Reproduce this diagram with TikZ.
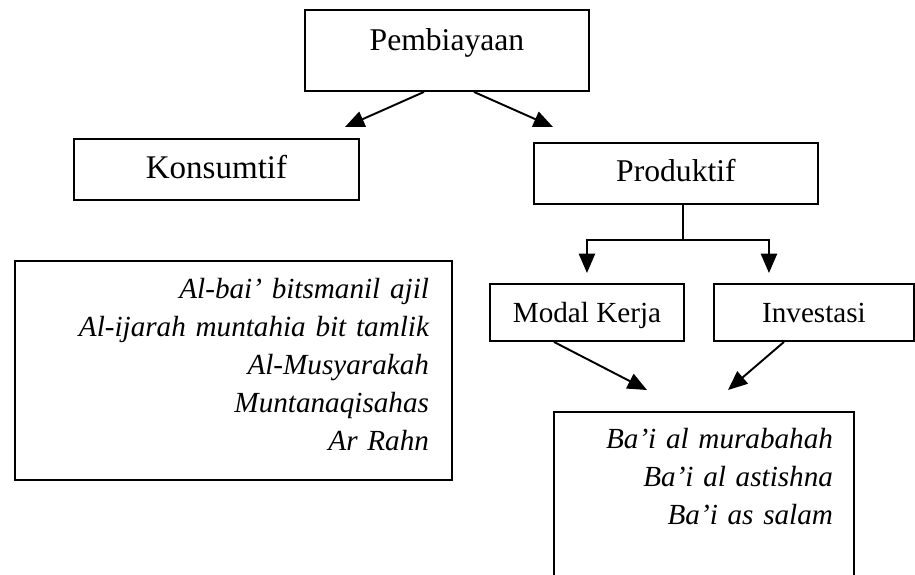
\documentclass[tikz,border=0pt]{standalone}
\usepackage{fontspec}
\setmainfont{Liberation Serif}
\usetikzlibrary{arrows.meta}

\begin{document}
\begin{tikzpicture}[
    kotak/.style={draw,line width=0.55pt,inner sep=0pt,anchor=north west},
    besar/.style={font=\fontsize{9}{11}\selectfont},
    kecil/.style={font=\fontsize{8.3}{10.8}\selectfont},
    daftar/.style={kotak,align=right,font=\fontsize{8.3}{10.8}\selectfont\itshape},
    panah/.style={line width=0.55pt,-{Triangle[length=5.5pt,width=4.6pt]}}
  ]
    \useasboundingbox (0,0) rectangle (9.15,-5.74);
    \clip (0,0) rectangle (9.15,-5.74);

    % Kotak atas
    \node[kotak,besar,minimum width=2.84cm,text height=0.41cm,text depth=0.40cm] (pemb) at (3.04,-0.09) {Pembiayaan};
    \node[kotak,font=\fontsize{9.4}{11}\selectfont,minimum width=2.85cm,text height=0.40cm,text depth=0.21cm] (kons) at (0.73,-1.38) {Konsumtif};
    \node[kotak,besar,minimum width=2.84cm,text height=0.39cm,text depth=0.22cm] (prod) at (5.33,-1.42) {Produktif};

    % Kotak produktif
    \node[kotak,kecil,minimum width=1.94cm,text height=0.39cm,text depth=0.18cm] (modal) at (4.89,-2.83) {Modal Kerja};
    \node[kotak,kecil,minimum width=2.00cm,text height=0.39cm,text depth=0.18cm] (inv) at (7.13,-2.83) {Investasi};

    % Daftar akad
    \node[daftar,text width=3.91cm,inner xsep=0.23cm,text height=0.38cm,text depth=1.81cm] (akadkons) at (0.14,-2.60)
        {Al-bai’ bitsmanil ajil\\ Al-ijarah muntahia bit tamlik\\ Al-Musyarakah\\ Muntanaqisahas\\ Ar Rahn};
    \node[daftar,text width=2.58cm,inner xsep=0.21cm,text height=0.37cm,text depth=2.00cm] (bawah) at (5.53,-4.11)
        {Ba’i al murabahah\\ Ba’i al astishna\\ Ba’i as salam};

    % Panah dari Pembiayaan
    \coordinate (ujungkons) at ([xshift=-0.15cm,yshift=0.11cm]kons.north east);
    \coordinate (ujungprod) at ([xshift=0.20cm,yshift=0.15cm]prod.north west);
    \draw[panah] ([xshift=-0.23cm]pemb.south) -- (ujungkons);
    \draw[panah] ([xshift=0.27cm]pemb.south) -- (ujungprod);

    % Cabang Produktif
    \draw[line width=0.55pt] ([xshift=0.07cm]prod.south) -- ++(0,-0.35) coordinate (cabang);
    \draw[panah] (cabang) -| ([yshift=0.10cm]modal.north);
    \draw[panah] (cabang) -| ([xshift=-0.45cm,yshift=0.10cm]inv.north);

    % Panah ke akad
    \coordinate (ujungmodal) at ([xshift=0.94cm,yshift=0.21cm]bawah.north west);
    \coordinate (ujunginv) at ([xshift=1.75cm,yshift=0.21cm]bawah.north west);
    \draw[panah] ([xshift=-0.33cm]modal.south) -- (ujungmodal);
    \draw[panah] ([xshift=-0.30cm]inv.south) -- (ujunginv);
\end{tikzpicture}
\end{document}
